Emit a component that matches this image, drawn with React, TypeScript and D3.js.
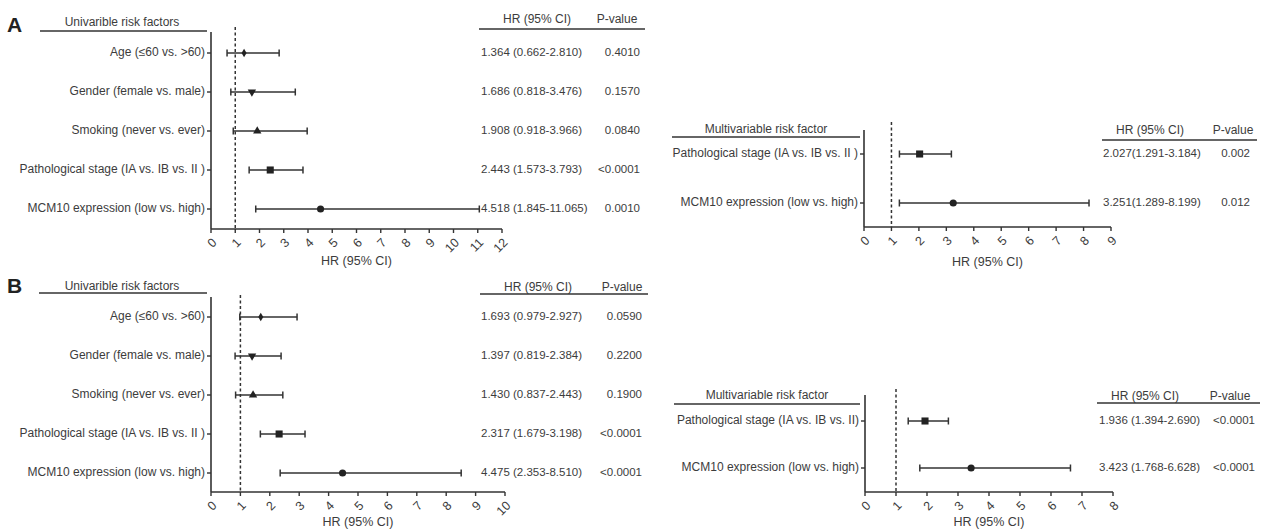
import React from "react";
import * as d3 from "d3";

// ---------- DATA ----------
const uniLabels = [
  "Age (≤60 vs. >60)",
  "Gender (female vs. male)",
  "Smoking (never vs. ever)",
  "Pathological stage (IA vs. IB vs. II )",
  "MCM10 expression (low vs. high)",
];
const uniSymbols = ["diamond", "triangleDown", "triangle", "square", "circle"];

const aUniHR = [1.364, 1.686, 1.908, 2.443, 4.518];
const aUniLo = [0.662, 0.818, 0.918, 1.573, 1.845];
const aUniHi = [2.81, 3.476, 3.966, 3.793, 11.065];
const aUniText = [
  "1.364 (0.662-2.810)",
  "1.686 (0.818-3.476)",
  "1.908 (0.918-3.966)",
  "2.443 (1.573-3.793)",
  "4.518 (1.845-11.065)",
];
const aUniP = ["0.4010", "0.1570", "0.0840", "<0.0001", "0.0010"];

const aMultiLabels = ["Pathological stage (IA vs. IB vs. II )", "MCM10 expression (low vs. high)"];
const multiSymbols = ["square", "circle"];
const aMultiHR = [2.027, 3.251];
const aMultiLo = [1.291, 1.289];
const aMultiHi = [3.184, 8.199];
const aMultiText = ["2.027(1.291-3.184)", "3.251(1.289-8.199)"];
const aMultiP = ["0.002", "0.012"];

const bUniHR = [1.693, 1.397, 1.43, 2.317, 4.475];
const bUniLo = [0.979, 0.819, 0.837, 1.679, 2.353];
const bUniHi = [2.927, 2.384, 2.443, 3.198, 8.51];
const bUniText = [
  "1.693 (0.979-2.927)",
  "1.397 (0.819-2.384)",
  "1.430 (0.837-2.443)",
  "2.317 (1.679-3.198)",
  "4.475 (2.353-8.510)",
];
const bUniP = ["0.0590", "0.2200", "0.1900", "<0.0001", "<0.0001"];

const bMultiLabels = ["Pathological stage (IA vs. IB vs. II)", "MCM10 expression (low vs. high)"];
const bMultiHR = [1.936, 3.423];
const bMultiLo = [1.394, 1.768];
const bMultiHi = [2.69, 6.628];
const bMultiText = ["1.936 (1.394-2.690)", "3.423 (1.768-6.628)"];
const bMultiP = ["<0.0001", "<0.0001"];

const xAxisTitle = "HR (95% CI)";
const hrHeader = "HR (95% CI)";
const pHeader = "P-value";
const uniTitle = "Univarible risk factors";
const multiTitle = "Multivariable risk factor";

// ---------- STYLE ----------
const FONT = "'Liberation Sans', Arial, Helvetica, sans-serif";
const INK = "#333";
const TXT = "#3c3c3c";

const symbolMap: Record<string, any> = {
  diamond: d3.symbolDiamond,
  triangle: d3.symbolTriangle,
  triangleDown: d3.symbolTriangle,
  square: d3.symbolSquare,
  circle: d3.symbolCircle,
};
const symbolSize: Record<string, number> = {
  diamond: 22,
  triangle: 30,
  triangleDown: 30,
  square: 50,
  circle: 40,
};

type PanelProps = {
  labels: string[];
  symbols: string[];
  hr: number[];
  lo: number[];
  hi: number[];
  text: string[];
  p: string[];
  title: string;
  xMax: number;
  x0: number;
  x1: number;
  axisTop: number;
  axisBottom: number;
  dashTop: number;
  rowFirst: number;
  rowLast: number;
  titleX: number;
  titleY: number;
  titleLine: [number, number, number];
  tableHeaderY: number;
  tableLine: [number, number, number];
  hrX: number;
  hrHeaderX: number;
  pRight: number;
  pHeaderX: number;
  axisTitleY: number;
};

function Panel(props: PanelProps) {
  const {
    labels, symbols, hr, lo, hi, text, p, title, xMax, x0, x1, axisTop, axisBottom,
    dashTop, rowFirst, rowLast, titleX, titleY, titleLine, tableHeaderY, tableLine,
    hrX, hrHeaderX, pRight, pHeaderX, axisTitleY,
  } = props;
  const x = d3.scaleLinear().domain([0, xMax]).range([x0, x1]);
  const y = d3.scaleLinear().domain([0, labels.length - 1]).range([rowFirst, rowLast]);
  const ticks = d3.range(0, xMax + 1);
  const capH = 3.5;
  return (
    <g fontFamily={FONT}>
      {/* left title */}
      <text x={titleX} y={titleY} textAnchor="middle" fontSize={12} fill={TXT}>{title}</text>
      <line x1={titleLine[0]} x2={titleLine[1]} y1={titleLine[2]} y2={titleLine[2]} stroke={INK} strokeWidth={1.6} />
      {/* table header */}
      <text x={hrHeaderX} y={tableHeaderY} textAnchor="middle" fontSize={12} fill={TXT}>{hrHeader}</text>
      <text x={pHeaderX} y={tableHeaderY} textAnchor="middle" fontSize={12} fill={TXT}>{pHeader}</text>
      <line x1={tableLine[0]} x2={tableLine[1]} y1={tableLine[2]} y2={tableLine[2]} stroke={INK} strokeWidth={1.6} />
      {/* axes */}
      <line x1={x0} x2={x0} y1={axisTop} y2={axisBottom} stroke={INK} strokeWidth={1.6} />
      <line x1={x0} x2={x1} y1={axisBottom} y2={axisBottom} stroke={INK} strokeWidth={1.6} />
      {ticks.map((t) => (
        <g key={t}>
          <line x1={x(t)} x2={x(t)} y1={axisBottom} y2={axisBottom + 4} stroke={INK} strokeWidth={1.4} />
          <text
            transform={`translate(${x(t) + 4},${axisBottom + 12}) rotate(-45)`}
            textAnchor="end"
            dominantBaseline="middle"
            fontSize={12.5}
            fill={TXT}
          >
            {t}
          </text>
        </g>
      ))}
      <text x={(x0 + x1) / 2} y={axisTitleY} textAnchor="middle" fontSize={12.5} fill={TXT}>{xAxisTitle}</text>
      {/* dashed reference line */}
      <line x1={x(1)} x2={x(1)} y1={dashTop} y2={axisBottom} stroke={INK} strokeWidth={1.5} strokeDasharray="3,2.5" />
      {/* rows */}
      {labels.map((lab, i) => {
        const yy = y(i);
        const sym = symbols[i];
        const path = d3.symbol(symbolMap[sym], symbolSize[sym])() as string;
        const rot = sym === "triangleDown" ? 180 : 0;
        return (
          <g key={i}>
            <line x1={x0 - 4} x2={x0} y1={yy} y2={yy} stroke={INK} strokeWidth={1.4} />
            <text x={x0 - 6} y={yy} textAnchor="end" dominantBaseline="middle" fontSize={12} fill={TXT}>{lab}</text>
            <line x1={x(lo[i])} x2={x(hi[i])} y1={yy} y2={yy} stroke={INK} strokeWidth={1.5} />
            <line x1={x(lo[i])} x2={x(lo[i])} y1={yy - capH} y2={yy + capH} stroke={INK} strokeWidth={1.5} />
            <line x1={x(hi[i])} x2={x(hi[i])} y1={yy - capH} y2={yy + capH} stroke={INK} strokeWidth={1.5} />
            <path d={path} transform={`translate(${x(hr[i])},${yy}) rotate(${rot})`} fill="#222" />
            <text x={hrX} y={yy} dominantBaseline="middle" fontSize={11.5} fill={TXT}>{text[i]}</text>
            <text x={pRight} y={yy} textAnchor="end" dominantBaseline="middle" fontSize={11.5} fill={TXT}>{p[i]}</text>
          </g>
        );
      })}
    </g>
  );
}

export default function App() {
  return (
    <svg
      width={1264}
      height={532}
      style={{ position: "absolute", left: 0, top: 0, background: "#fff" }}
    >
      <rect width={1264} height={532} fill="#fff" />
      <text x={7} y={32} fontFamily={FONT} fontWeight="bold" fontSize={21} fill="#222">A</text>
      <text x={7} y={293} fontFamily={FONT} fontWeight="bold" fontSize={21} fill="#222">B</text>

      <Panel
        labels={uniLabels} symbols={uniSymbols} hr={aUniHR} lo={aUniLo} hi={aUniHi}
        text={aUniText} p={aUniP} title={uniTitle} xMax={12}
        x0={211} x1={502} axisTop={32} axisBottom={229} dashTop={27}
        rowFirst={53} rowLast={209}
        titleX={122} titleY={26} titleLine={[40, 207, 31]}
        tableHeaderY={23} tableLine={[479, 645, 29]}
        hrX={481} hrHeaderX={537} pRight={640} pHeaderX={617} axisTitleY={265}
      />
      <Panel
        labels={aMultiLabels} symbols={multiSymbols} hr={aMultiHR} lo={aMultiLo} hi={aMultiHi}
        text={aMultiText} p={aMultiP} title={multiTitle} xMax={9}
        x0={864} x1={1111} axisTop={130} axisBottom={227} dashTop={122}
        rowFirst={154} rowLast={203}
        titleX={766} titleY={133} titleLine={[672, 860, 137]}
        tableHeaderY={134} tableLine={[1102, 1257, 140]}
        hrX={1103} hrHeaderX={1150} pRight={1250} pHeaderX={1233} axisTitleY={266}
      />
      <Panel
        labels={uniLabels} symbols={uniSymbols} hr={bUniHR} lo={bUniLo} hi={bUniHi}
        text={bUniText} p={bUniP} title={uniTitle} xMax={10}
        x0={211} x1={505} axisTop={297} axisBottom={492} dashTop={295}
        rowFirst={317} rowLast={473}
        titleX={122} titleY={290} titleLine={[39, 207, 293]}
        tableHeaderY={291} tableLine={[480, 648, 294]}
        hrX={481} hrHeaderX={538} pRight={642} pHeaderX={622} axisTitleY={526}
      />
      <Panel
        labels={bMultiLabels} symbols={multiSymbols} hr={bMultiHR} lo={bMultiLo} hi={bMultiHi}
        text={bMultiText} p={bMultiP} title={multiTitle} xMax={8}
        x0={865} x1={1113} axisTop={395} axisBottom={492} dashTop={389}
        rowFirst={421} rowLast={468}
        titleX={767} titleY={399} titleLine={[674, 860, 404]}
        tableHeaderY={400} tableLine={[1097, 1260, 403]}
        hrX={1099} hrHeaderX={1145} pRight={1255} pHeaderX={1230} axisTitleY={526}
      />
    </svg>
  );
}
